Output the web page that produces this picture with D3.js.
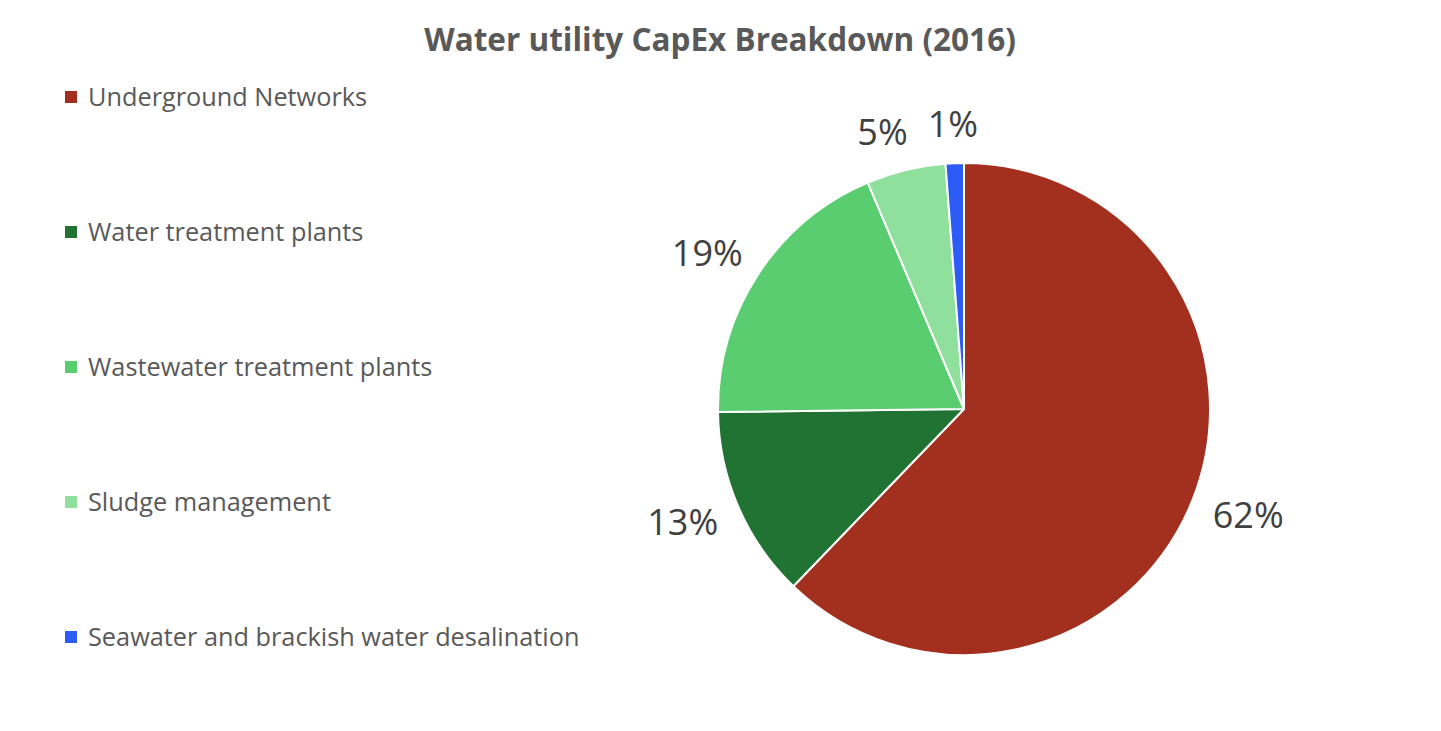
<!DOCTYPE html>
<html>
<head>
<meta charset="utf-8">
<script src="https://cdn.jsdelivr.net/npm/d3@7"></script>
<style>
  html, body { margin: 0; padding: 0; background: #fff; }
  svg { display: block; }
  text { font-family: "Open Sans", "Noto Sans", sans-serif; }
</style>
</head>
<body>
<svg id="chart" width="1441" height="731"></svg>
<script>
const title = "Water utility CapEx Breakdown (2016)";
const categories = [
  "Underground Networks",
  "Water treatment plants",
  "Wastewater treatment plants",
  "Sludge management",
  "Seawater and brackish water desalination"
];
const values = [62.2, 12.6, 18.8, 5.2, 1.2];
const colors = ["#A3301F", "#217333", "#5ACD70", "#8FDF9D", "#2D5BF5"];

const W = 1441, H = 731;
const svg = d3.select("#chart");
const textColor = "#595959";

// title
svg.append("text")
  .attr("x", 720).attr("y", 51)
  .attr("text-anchor", "middle")
  .attr("font-size", 31.5).attr("font-weight", 700)
  .attr("fill", textColor)
  .text(title);

// legend
const legendY = d3.scalePoint().domain(categories).range([97, 637]);
const leg = svg.append("g");
const item = leg.selectAll("g").data(categories).join("g")
  .attr("transform", d => `translate(65,${legendY(d)})`);
item.append("rect")
  .attr("x", 0).attr("y", -6).attr("width", 12).attr("height", 12)
  .attr("fill", (d, i) => colors[i]);
item.append("text")
  .attr("x", 23).attr("y", 0).attr("dy", "0.35em")
  .attr("font-size", 25.3).attr("fill", textColor)
  .text(d => d);

// pie
const cx = 964, cy = 409, R = 246;
const total = d3.sum(values);
const pie = d3.pie().sort(null).value(d => d)(values);
const arc = d3.arc().innerRadius(0).outerRadius(R);
const g = svg.append("g").attr("transform", `translate(${cx},${cy})`);
g.selectAll("path").data(pie).join("path")
  .attr("d", arc)
  .attr("fill", (d, i) => colors[i])
  .attr("stroke", "#fff").attr("stroke-width", 2).attr("stroke-linejoin", "round");

// labels (outside end, with simple overlap avoidance)
const fmt = d3.format(".0%");
const pad = 20;
const labels = g.selectAll("text.lbl").data(pie).join("text")
  .attr("class", "lbl")
  .attr("font-size", 36).attr("fill", "#404040")
  .attr("text-anchor", "middle").attr("dy", "0.35em")
  .text(d => fmt(d.value / total));

const boxes = [];
labels.each(function(d) {
  const a = (d.startAngle + d.endAngle) / 2;
  const ux = Math.sin(a), uy = -Math.cos(a);
  const bb = this.getBBox();
  const x = (R + pad) * ux + ux * (bb.width / 2 + 5);
  const y = (R + pad) * uy + uy * 19;
  boxes.push({ node: this, x, y, w: bb.width, h: bb.height });
});
// resolve overlaps from the last label backwards (push earlier one left)
for (let i = boxes.length - 2; i >= 0; i--) {
  const a = boxes[i], b = boxes[i + 1];
  const vOverlap = Math.abs(a.y - b.y) < (a.h + b.h) / 2;
  const gap = (b.x - b.w / 2) - (a.x + a.w / 2);
  if (vOverlap && a.x < b.x && gap < 20) a.x -= (20 - gap);
}
boxes.forEach(b => d3.select(b.node).attr("x", b.x).attr("y", b.y));
</script>
</body>
</html>
